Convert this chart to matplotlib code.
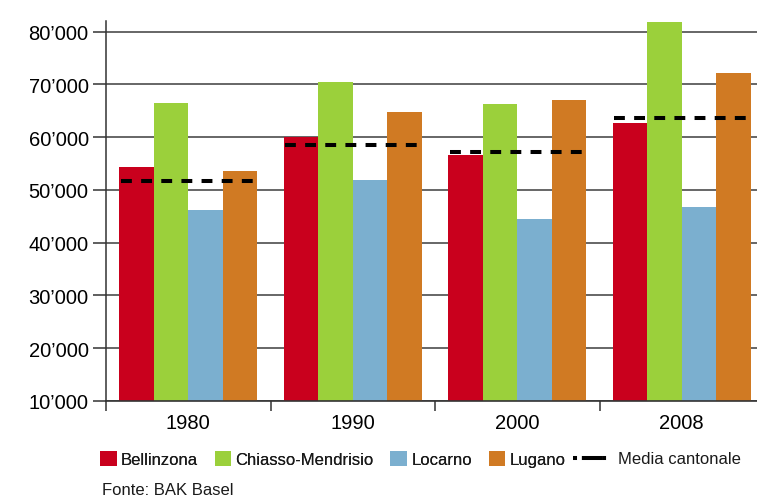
import matplotlib
matplotlib.use("Agg")
import matplotlib.pyplot as plt
from matplotlib import font_manager
from matplotlib.patches import Patch
from matplotlib.lines import Line2D
import numpy as np

# dati
anni = ["1980", "1990", "2000", "2008"]
bellinzona = [54300, 60000, 56700, 62600]
chiasso = [66500, 70500, 66300, 81800]
locarno = [46100, 51800, 44400, 46700]
lugano = [53500, 64700, 67100, 72100]
media = [51600, 58500, 57100, 63600]

regioni = ["Bellinzona", "Chiasso-Mendrisio", "Locarno", "Lugano"]
colori = ["#C9001D", "#9BD03B", "#7BAFCF", "#D07A23"]
serie = [bellinzona, chiasso, locarno, lugano]

plt.rcParams["font.family"] = ["Liberation Sans", "DejaVu Sans"]
plt.rcParams["text.color"] = "#1a1a1a"

fig = plt.figure(figsize=(7.57, 5.02), dpi=100)
ax = fig.add_axes([106 / 757, 100 / 502, 658 / 757, 380 / 502])

x = np.arange(len(anni))
w = 0.21
for i, (vals, c) in enumerate(zip(serie, colori)):
    ax.bar(x + (i - 1.5) * w, [v - 10000 for v in vals], w, bottom=10000,
           color=c, zorder=2, label=regioni[i])

ax.hlines(media, x - 2 * w + 0.01, x + 2 * w, colors="black", lw=2.9,
          linestyles=(0, (2.7, 2.3)), zorder=3)

ax.set_ylim(10000, 82000)
ax.set_xlim(-0.5, 3.5)
ax.set_yticks(range(10000, 80001, 10000))
ax.set_yticklabels([f"{v // 1000}\u2019000" for v in range(10000, 80001, 10000)],
                   fontsize=14.5)
ax.set_xticks(x)
ax.set_xticklabels(anni, fontsize=14.5)
ax.set_xticks(np.arange(-0.5, 4, 1), minor=True)
ax.tick_params(axis="x", which="major", length=0, pad=9)
ax.tick_params(axis="x", which="minor", length=7, width=1.1, color="#333333")
ax.tick_params(axis="y", length=9.5, width=1.1, color="#333333", pad=3)

ax.yaxis.grid(True, color="#4d4d4d", lw=1.2, zorder=0)
ax.set_axisbelow(True)
for s in ["top", "right"]:
    ax.spines[s].set_visible(False)
ax.spines["left"].set_color("#333333")
ax.spines["bottom"].set_color("#333333")
ax.spines["left"].set_linewidth(1.1)
ax.spines["bottom"].set_linewidth(1.2)

# legenda
maniglie = [Patch(facecolor=c, label=r) for c, r in zip(colori, regioni)]
leg1 = fig.legend(handles=maniglie, loc="center left", bbox_to_anchor=(100 / 757, 42 / 502),
                  ncol=4, frameon=False, fontsize=12, handlelength=1.0,
                  handleheight=1.0, handletextpad=0.25, columnspacing=1.0,
                  borderpad=0, borderaxespad=0)
fig.add_artist(leg1)
linea = [Line2D([], [], color="black", lw=2.9, ls=(0, (1, 1.2, 5, 0.01)), label="Media cantonale")]
fig.legend(handles=linea, loc="center left", bbox_to_anchor=(573 / 757, 42 / 502),
           frameon=False, fontsize=12, handlelength=2.2, handletextpad=0.5,
           borderpad=0, borderaxespad=0)

fig.text(102 / 757, 4 / 502, "Fonte: BAK Basel", fontsize=12, va="bottom")

fig.savefig("out.png", dpi=100)
